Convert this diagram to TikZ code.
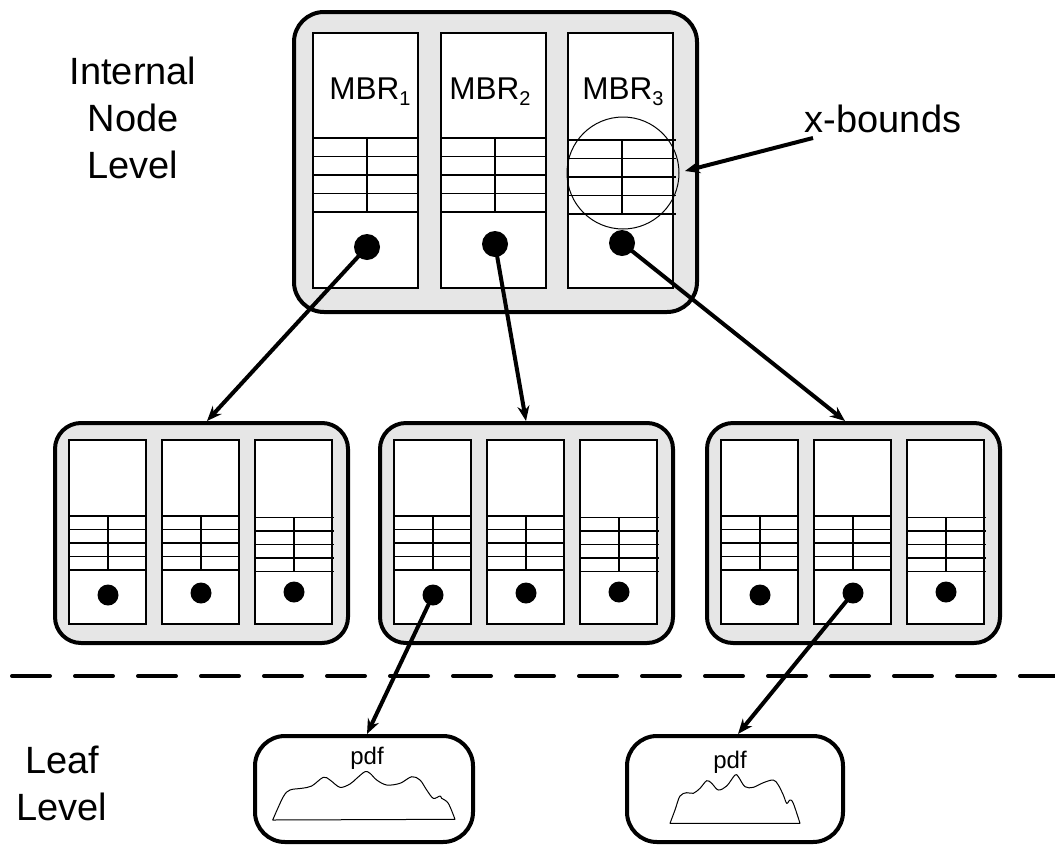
\documentclass[tikz,border=0pt]{standalone}
\usepackage{fontspec}
\setmainfont{Liberation Sans}
\usetikzlibrary{arrows.meta}
\definecolor{boxgray}{RGB}{230,230,230}
\begin{document}
\begin{tikzpicture}[x=1pt,y=-1pt,
  outerbox/.style={draw, line width=4pt, fill=boxgray, rounded corners=#1, inner sep=0pt},
  col/.style={draw, line width=2.5pt, fill=white},
  tbl/.style={line width=1.5pt},
  dot/.style={circle, fill=black, inner sep=0pt, minimum size=#1},
  ptr/.style={line width=4pt, -{Stealth[length=15pt,width=12pt,inset=5pt]}},
  lbl/.style={font=\fontsize{38}{47}\selectfont, align=center, inner sep=0pt},
  mbr/.style={font=\fontsize{31.5}{31.5}\selectfont, inner sep=0pt, anchor=base},
  pdflbl/.style={font=\fontsize{24}{24}\selectfont, inner sep=0pt, anchor=base},
  curve/.style={line width=1pt, line join=round},
]
\useasboundingbox (0,0) rectangle (1055,844);

% labels
\node[lbl] (lint) at (133,118) {Internal\\Node\\Level};
\node[lbl] (lleaf) at (62,783.5) {Leaf\\Level};
\node[lbl] (xb) at (883,118.5) {x-bounds};

% top internal node
\node[outerbox=30pt, minimum width=403pt, minimum height=300pt] (top) at (495.5,162) {};
\foreach \cx/\ty/\ex/\dy [count=\j] in {313/138/0/247, 441/138/0/244, 568/140/3/243} {
  \draw[col] (\cx,33) rectangle (\cx+105,288);
  \foreach \k in {0,...,4} \draw[tbl] (\cx,\ty+18.5*\k) -- (\cx+105+\ex,\ty+18.5*\k);
  \draw[tbl] (\cx+54,\ty) -- (\cx+54,\ty+74);
  \node[dot=26pt] (t\j) at (\cx+54,\dy) {};
}
\node[mbr] (mbr1) at (370,99) {MBR\raisebox{-0.22em}{\fontsize{20}{20}\selectfont 1}};
\node[mbr] (mbr2) at (490,99) {MBR\raisebox{-0.22em}{\fontsize{20}{20}\selectfont 2}};
\node[mbr] (mbr3) at (623,99) {MBR\raisebox{-0.22em}{\fontsize{20}{20}\selectfont 3}};
\draw[line width=1pt] (623,173) circle[radius=56pt];

% middle level nodes
\foreach \x [count=\i] in {55,380,707} {
  \node[outerbox=26pt, minimum width=293pt, minimum height=220pt] (m\i) at (\x+146.5,533) {};
  \foreach \j/\dy/\ty/\ex in {0/595/516/0, 1/593/516/0, 2/592/517.5/1.5} {
    \pgfmathsetmacro\cx{\x+14+93*\j}
    \draw[col] (\cx,440) rectangle (\cx+77,624);
    \foreach \k in {0,...,4} \draw[tbl] (\cx,\ty+13.5*\k) -- (\cx+77+\ex,\ty+13.5*\k);
    \draw[tbl] (\cx+39,\ty) -- (\cx+39,\ty+54);
    \node[dot=21pt] (m\i d\j) at (\cx+39,\dy) {};
  }
}

% leaf nodes
\node[outerbox=30pt, fill=white, minimum width=218pt, minimum height=106pt] (leaf1) at (364,789) {};
\node[outerbox=30pt, fill=white, minimum width=216pt, minimum height=106pt] (leaf2) at (735,789) {};
\node[pdflbl] (pdf1) at (367,764) {pdf};
\node[pdflbl] (pdf2) at (730,768) {pdf};
\draw[curve] plot[smooth, tension=0.55] coordinates {(272.7,820) (283.3,796.7) (290,790) (301.7,788.3) (311.7,786) (323.3,777.3) (330,780) (340,787.3) (350,784) (356.7,778.3) (365,771.7) (370,773.3) (376.7,780) (386.7,785) (400,783.3) (411.7,776.7) (420,780) (426.7,790) (433.3,798.3) (440,796) (441.7,798.3) (448.3,803.3) (455,819.3)} -- cycle;
\draw[curve] plot[smooth, tension=0.55] coordinates {(670,823.3) (675,810) (680,796) (686.7,792.7) (693.3,793.3) (700,788.3) (706.7,780.7) (711.7,783.3) (718.3,790) (726.7,786) (735,775) (738.3,776.7) (745,786.7) (753.3,787.3) (763.3,782.7) (773.3,780) (778.3,785) (783.3,795) (786.7,803.3) (790,800) (793.3,803.3) (800,823.3)} -- cycle;

% level separator
\draw[line width=4pt, line cap=round, dash pattern=on 38pt off 25pt] (12,676) -- (1055,676);

% connector end points
\coordinate (m1top) at (207,421);
\coordinate (m2top) at (526,421);
\coordinate (m3top) at (845,421);
\coordinate (l1top) at (367,734);
\coordinate (l2top) at (738,734);
\coordinate (xbs) at (813,138);
\coordinate (xbe) at (685,171);

% connectors
\draw[ptr] (t1.center) -- (m1top);
\draw[ptr] (t2.center) -- (m2top);
\draw[ptr] (t3.center) -- (m3top);
\draw[ptr] (m2d0.center) -- (l1top);
\draw[ptr] (m3d1.center) -- (l2top);
\draw[ptr] (xbs) -- (xbe);
\end{tikzpicture}
\end{document}
